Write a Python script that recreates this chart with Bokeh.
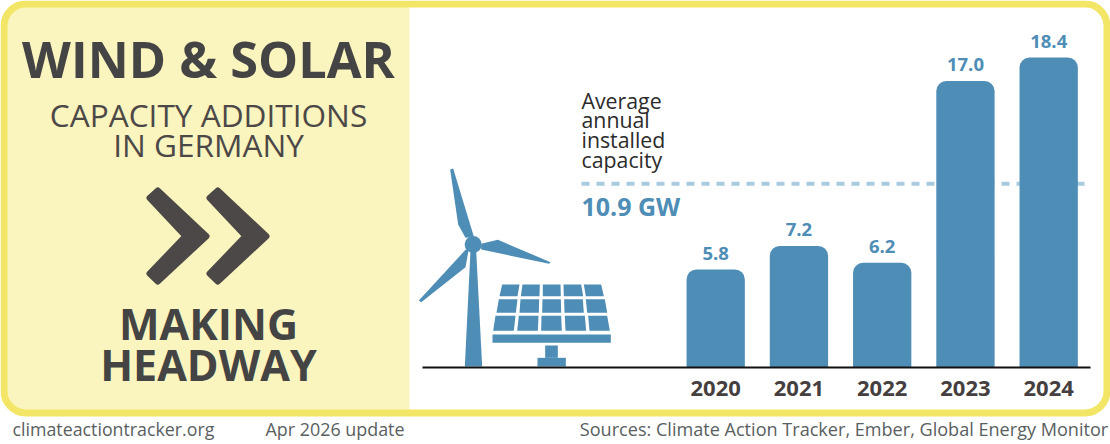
from bokeh.plotting import figure
from bokeh.models import Range1d, LinearAxis, FixedTicker
from bokeh.core.properties import value
from bokeh.embed import file_html
from bokeh.resources import INLINE

years = [2020, 2021, 2022, 2023, 2024]
additions = [5.8, 7.2, 6.2, 17.0, 18.4]
average_gw = 10.9
title_lines = ["WIND & SOLAR", "CAPACITY ADDITIONS", "IN GERMANY"]
status_lines = ["MAKING", "HEADWAY"]
avg_lines = ["Average", "annual", "installed", "capacity"]
avg_label = "10.9 GW"
footer = ["climateactiontracker.org", "Apr 2026 update", "Sources: Climate Action Tracker, Ember, Global Energy Monitor"]

BLUE = "#4E8DB5"
DARK = "#4D4848"
W, H = 1110, 444
px_per_year = 83.25
px_per_gw = 16.82
base_x, base_y = 715.2, 366.5
BASE_FIX = 0.41

p = figure(width=W, height=H, output_backend="svg", toolbar_location=None,
           x_range=Range1d(2020 + (0 - base_x) / px_per_year, 2020 + (W - base_x) / px_per_year),
           y_range=Range1d((base_y - H) / px_per_gw, base_y / px_per_gw),
           x_axis_location=None, y_axis_location=None, min_border=0,
           outline_line_color=None, background_fill_color="white", border_fill_color="white")
p.grid.visible = False
p.extra_x_ranges = {"px": Range1d(0, W)}
p.extra_y_ranges = {"px": Range1d(H, 0)}
PX = dict(x_range_name="px", y_range_name="px")

def X(px):
    return 2020 + (px - base_x) / px_per_year

def label(x, y, s, size, color, bold=False, align="center", font="Open Sans"):
    p.text([x], [y - BASE_FIX * size], text=[s], text_font=value(font), text_font_size=value(f"{size}px"),
           text_font_style="bold" if bold else "normal", text_color=color,
           text_align=align, text_baseline="alphabetic", **PX)

# panel and frame
p.quad(left=[2], right=[409], top=[2], bottom=[412], fill_color="#FAF4BE", line_color=None,
       border_radius=(20, 0, 0, 20), **PX)
p.quad(left=[3.5], right=[1106.5], top=[3.5], bottom=[412.5], fill_color=None, line_color="#F3E565",
       line_width=7, border_radius=22, **PX)

# left-hand texts
label(208, 79, title_lines[0], 50.5, "#444444", True)
label(208, 127, title_lines[1], 31.6, DARK)
label(208, 157, title_lines[2], 31.6, DARK)
label(208, 341, status_lines[0], 43, "#444444", True)
label(208, 382, status_lines[1], 43, "#444444", True)

# chevrons
chev_x = [149, 157.3, 206, 157.3, 149, 185]
chev_y = [197.5, 190, 235.7, 281, 273, 235.7]
for dx in (0, 60):
    p.patch([v + dx for v in chev_x], chev_y, fill_color=DARK, line_color=DARK, line_width=6,
            line_join="round", **PX)

# wind turbine (zoomed-crop coordinates: px = 410 + zx/3, py = 150 + zy/3)
def zx(vals):
    return [410 + v / 3 for v in vals]

def zy(vals):
    return [150 + v / 3 for v in vals]

turbine = [
    ([163, 180, 197, 215], [648, 300, 300, 648]),
    ([119, 128, 190, 165, 143], [57, 54, 258, 262, 222]),
    ([212, 262, 420, 416, 212], [280, 268, 335, 340, 297]),
    ([175, 165, 32, 25, 165], [295, 350, 455, 450, 298]),
]
for xs, ys in turbine:
    p.patch(zx(xs), zy(ys), fill_color=BLUE, line_color=None, **PX)
p.scatter(zx([188]), zy([282]), size=17, marker="circle", fill_color=BLUE, line_color=None, **PX)

# solar panel
rows = [
    (402, 437, [(275, 327), (336, 388), (397, 450), (459, 512), (520, 572)],
     [(267, 321), (331, 387), (397, 451), (460, 518), (526, 580)]),
    (446, 487, [(265, 321), (330, 386), (396, 451), (461, 517), (526, 583)],
     [(258, 316), (327, 385), (395, 452), (462, 520), (530, 590)]),
    (496, 541, [(255, 315), (325, 384), (393, 452), (463, 523), (533, 590)],
     [(248, 310), (320, 382), (392, 454), (465, 527), (537, 598)]),
]
for y0, y1, tops, bots in rows:
    for (a, b), (c, d) in zip(tops, bots):
        p.patch(zx([a, b, d, c]), zy([y0, y0, y1, y1]), fill_color=BLUE, line_color=None, **PX)
for xs, ys in [([246, 601, 601, 246], [552, 552, 577, 577]),
               ([404, 442, 442, 404], [585, 585, 622, 622]),
               ([381, 466, 466, 381], [622, 622, 648, 648])]:
    p.patch(zx(xs), zy(ys), fill_color=BLUE, line_color=None, **PX)

# average line
p.line([X(581), X(1090)], [average_gw, average_gw], line_color="#A9CBDF", line_width=4, line_dash="8 7")
for y, s in zip([109, 128, 148, 168], avg_lines):
    label(581, y, s, 21.3, "#2B2B2B", align="left")
label(581, 216, avg_label, 25, BLUE, True, align="left")

# bars
p.vbar(x=years, top=additions, bottom=0, width=58.3 / px_per_year, fill_color=BLUE, line_color=None,
       border_radius=(10, 10, 0, 0))
p.text(years, [v + (8.5 + BASE_FIX * 18.5) / px_per_gw for v in additions],
       text=[f"{v:.1f}" for v in additions], text_align="center",
       text_baseline="alphabetic", text_font=value("Open Sans"), text_font_size=value("18.5px"),
       text_font_style="bold", text_color=BLUE)

# axis
axis = LinearAxis(fixed_location=0, ticker=FixedTicker(ticks=years), bounds=(X(422), X(1090)),
                  axis_line_color="#111111", axis_line_width=2, major_tick_line_color=None,
                  minor_tick_line_color=None, major_label_text_font="Open Sans",
                  major_label_text_font_size="22px", major_label_text_font_style="bold",
                  major_label_text_color="#453F3F", major_label_standoff=8)
p.add_layout(axis, "below")

# footer
label(12, 436, footer[0], 17.8, "#5A6060", align="left")
label(265, 436, footer[1], 17.9, "#5A6060", align="left")
label(838.5 + 5, 436, footer[2], 18.08, "#5A6060", align="center")

open("out.html", "w").write(file_html(p, INLINE))
